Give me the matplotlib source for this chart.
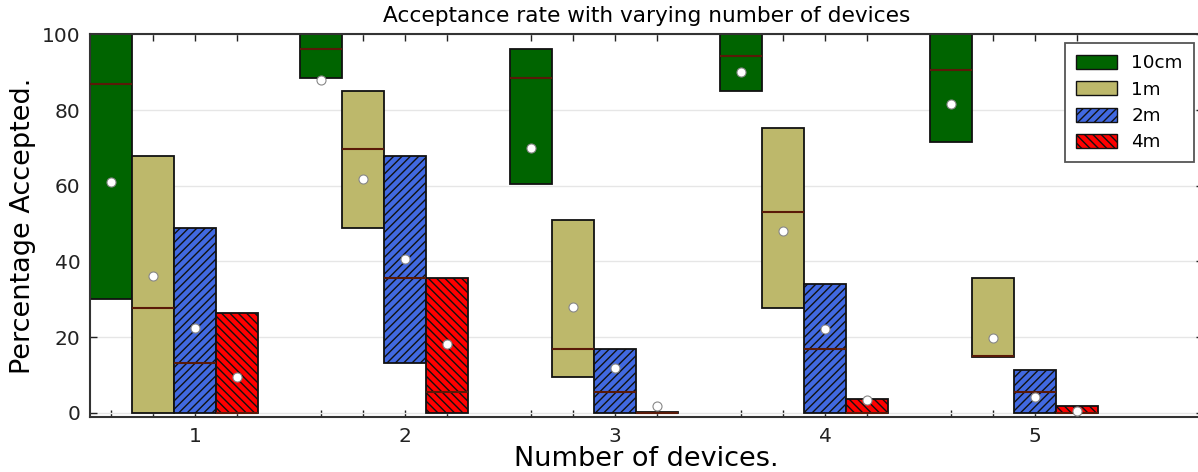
import matplotlib
matplotlib.use("Agg")
import matplotlib.pyplot as plt
from matplotlib.patches import Patch

# number of devices on the x axis
devices = [1, 2, 3, 4, 5]
distances = ["10cm", "1m", "2m", "4m"]

# per distance: lower quartile, median, upper quartile, mean (percent accepted)
q1_10cm = [30.0, 88.5, 60.4, 85.0, 71.6]
med_10cm = [86.8, 96.1, 88.5, 94.3, 90.6]
q3_10cm = [100.0, 100.0, 96.0, 100.0, 100.0]
mean_10cm = [61.1, 87.9, 69.9, 90.1, 81.5]

q1_1m = [0.0, 48.9, 9.4, 27.6, 14.8]
med_1m = [27.7, 69.7, 16.9, 53.0, 15.0]
q3_1m = [67.8, 84.9, 50.9, 75.3, 35.7]
mean_1m = [36.2, 61.8, 28.0, 48.0, 19.7]

q1_2m = [0.0, 13.2, 0.0, 0.0, 0.0]
med_2m = [13.2, 35.7, 5.6, 16.9, 5.6]
q3_2m = [48.8, 67.8, 16.9, 33.9, 11.3]
mean_2m = [22.5, 40.6, 11.9, 22.2, 4.1]

q1_4m = [0.0, 0.0, 0.0, 0.0, 0.0]
med_4m = [0.0, 5.6, 0.0, 0.0, 0.0]
q3_4m = [26.3, 35.7, 0.3, 3.6, 1.8]
mean_4m = [9.4, 18.1, 1.9, 3.4, 0.5]

series = [
    (q1_10cm, med_10cm, q3_10cm, mean_10cm),
    (q1_1m, med_1m, q3_1m, mean_1m),
    (q1_2m, med_2m, q3_2m, mean_2m),
    (q1_4m, med_4m, q3_4m, mean_4m),
]
colors = ["#006400", "#bdb86b", "#4169e1", "#ff0000"]
hatches = [None, None, "////", "\\\\\\\\"]
offsets = [-0.4, -0.2, 0.0, 0.2]
width = 0.2

plt.rcParams["hatch.linewidth"] = 1.0

fig = plt.figure(figsize=(11.98, 4.72), dpi=100)
ax = fig.add_axes([0.0754, 0.1159, 0.9288, 0.8114])

all_pos = []
for (q1, med, q3, mean), col, hatch, off in zip(series, colors, hatches, offsets):
    stats = []
    for i in range(len(devices)):
        stats.append(dict(q1=q1[i], med=med[i], q3=q3[i], mean=mean[i],
                          whislo=q1[i], whishi=q3[i], fliers=[]))
    pos = [d + off for d in devices]
    all_pos += pos
    bp = ax.bxp(stats, positions=pos, widths=width, patch_artist=True,
                showmeans=True, showcaps=False, showfliers=False,
                manage_ticks=False,
                boxprops=dict(edgecolor="#111111", linewidth=1.3),
                whiskerprops=dict(linewidth=0),
                medianprops=dict(color="#5a1a08", linewidth=1.5),
                meanprops=dict(marker="o", markerfacecolor="white",
                               markeredgecolor="#888888", markersize=6.5,
                               markeredgewidth=0.8))
    for box in bp["boxes"]:
        box.set_facecolor(col)
        if hatch:
            box.set_hatch(hatch)
        box.set_zorder(2)
    for m in bp["medians"]:
        m.set_zorder(3)
    for m in bp["means"]:
        m.set_zorder(4)

ax.set_xlim(0.5, 5.8)
ax.set_ylim(-1.2, 100)

all_pos = sorted(all_pos)
ax.set_xticks(all_pos)
ax.set_xticklabels([str(int(round(p))) if abs(p - round(p)) < 1e-6 else "" for p in all_pos])
ax.set_yticks([0, 20, 40, 60, 80, 100])

ax.tick_params(direction="in", length=5, width=1, top=True, right=True,
               labelsize=14.5, pad=7, colors="#222222")
ax.yaxis.grid(True, color="#e6e6e6", linewidth=1)
ax.set_axisbelow(True)
for sp in ax.spines.values():
    sp.set_color("#333333")
    sp.set_linewidth(1.5)

ax.set_title("Acceptance rate with varying number of devices", fontsize=15.6, pad=9)
ax.set_xlabel("Number of devices.", fontsize=19.5, labelpad=0)
ax.set_ylabel("Percentage Accepted.", fontsize=19.5, labelpad=4)

handles = [Patch(facecolor=c, edgecolor="#111111", hatch=h, label=lab)
           for c, h, lab in zip(colors, hatches, distances)]
leg = ax.legend(handles=handles, loc="upper right", fontsize=13.2,
                fancybox=False, framealpha=1, edgecolor="#555555",
                handlelength=2.2, handleheight=0.8, labelspacing=0.45,
                borderpad=0.6, borderaxespad=0.5)
leg.get_frame().set_linewidth(1.3)

fig.savefig("out.png", dpi=100)
